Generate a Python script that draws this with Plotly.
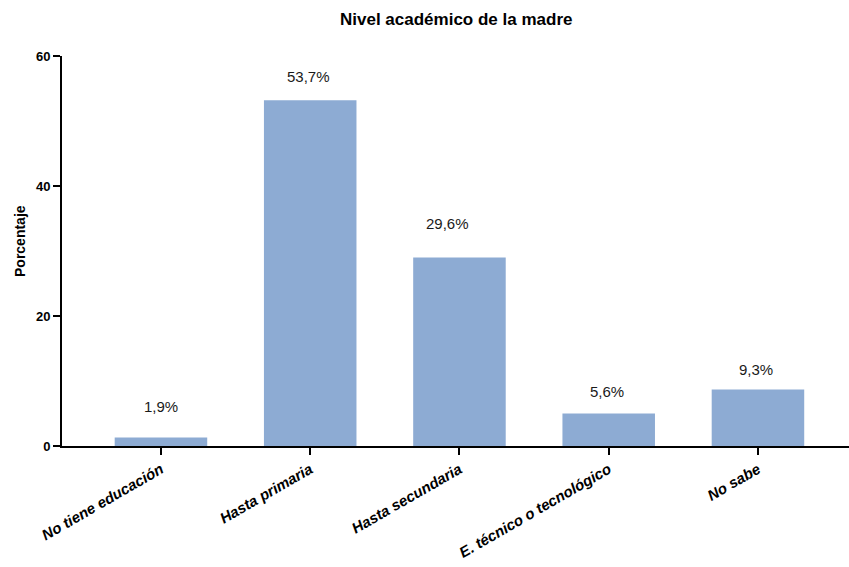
import plotly.graph_objects as go

categories = ["No tiene educación", "Hasta primaria", "Hasta secundaria",
              "E. técnico o tecnológico", "No sabe"]
bar_values = [1.3, 53.2, 29.0, 5.0, 8.7]
label_texts = ["1,9%", "53,7%", "29,6%", "5,6%", "9,3%"]
y_tick_vals = [0, 20, 40, 60]

# style-only offsets for the value labels (pixels)
label_yshift = [31, 24, 34, 22, 20]
label_xshift = [0, -2, -12, -2, -2]

x_pos = list(range(len(categories)))
FONT = "Liberation Sans, Arial, sans-serif"

W, H = 849, 567
ML, MR, MT, MB = 62, 0, 56, 121
PW, PH = W - ML - MR, H - MT - MB

fig = go.Figure()
fig.add_trace(go.Bar(
    x=x_pos, y=bar_values, width=0.62,
    marker=dict(color="#8DABD3", line=dict(width=0)),
    hoverinfo="skip",
))

for i, (v, t) in enumerate(zip(bar_values, label_texts)):
    fig.add_annotation(x=x_pos[i], y=v, xref="x", yref="y", text=t,
                       showarrow=False, yanchor="middle", xanchor="center",
                       yshift=label_yshift[i], xshift=label_xshift[i],
                       font=dict(family=FONT, size=15, color="#1a1a1a"))

# chart title
fig.add_annotation(text="<b>Nivel académico de la madre</b>", xref="paper", yref="paper",
                   x=0.5, y=1 + (MT - 20) / PH, xanchor="center", yanchor="middle",
                   showarrow=False, font=dict(family=FONT, size=17, color="black"))
# y-axis title
fig.add_annotation(text="<b>Porcentaje</b>", xref="paper", yref="paper",
                   x=-(ML - 20) / PW, y=(446 - 241) / PH,
                   xanchor="center", yanchor="middle", textangle=-90,
                   showarrow=False, font=dict(family=FONT, size=14, color="black"))

fig.update_layout(
    width=W, height=H,
    margin=dict(l=ML, r=MR, t=MT, b=MB, autoexpand=False),
    plot_bgcolor="white", paper_bgcolor="white",
    showlegend=False,
)

fig.update_xaxes(
    range=[-0.663, 4.61], tickvals=x_pos,
    ticktext=[f"<b><i>{c}</i></b>" for c in categories],
    tickangle=-30, ticks="outside", ticklen=7, tickwidth=2, tickcolor="black",
    showline=True, linecolor="black", linewidth=2, showgrid=False, zeroline=False,
    automargin=False,
    tickfont=dict(family=FONT, size=15, color="black"),
)
fig.update_yaxes(
    range=[0, 60], tickvals=y_tick_vals,
    ticktext=[f"<b>{v}</b>" for v in y_tick_vals],
    ticks="outside", ticklen=7, tickwidth=2, tickcolor="black",
    showline=True, linecolor="black", linewidth=2, showgrid=False, zeroline=False,
    automargin=False,
    tickfont=dict(family=FONT, size=13, color="black"),
)

fig.write_html("out.html", config={"displayModeBar": False},
               post_script="document.body.style.margin='0';document.body.style.overflow='hidden';")
